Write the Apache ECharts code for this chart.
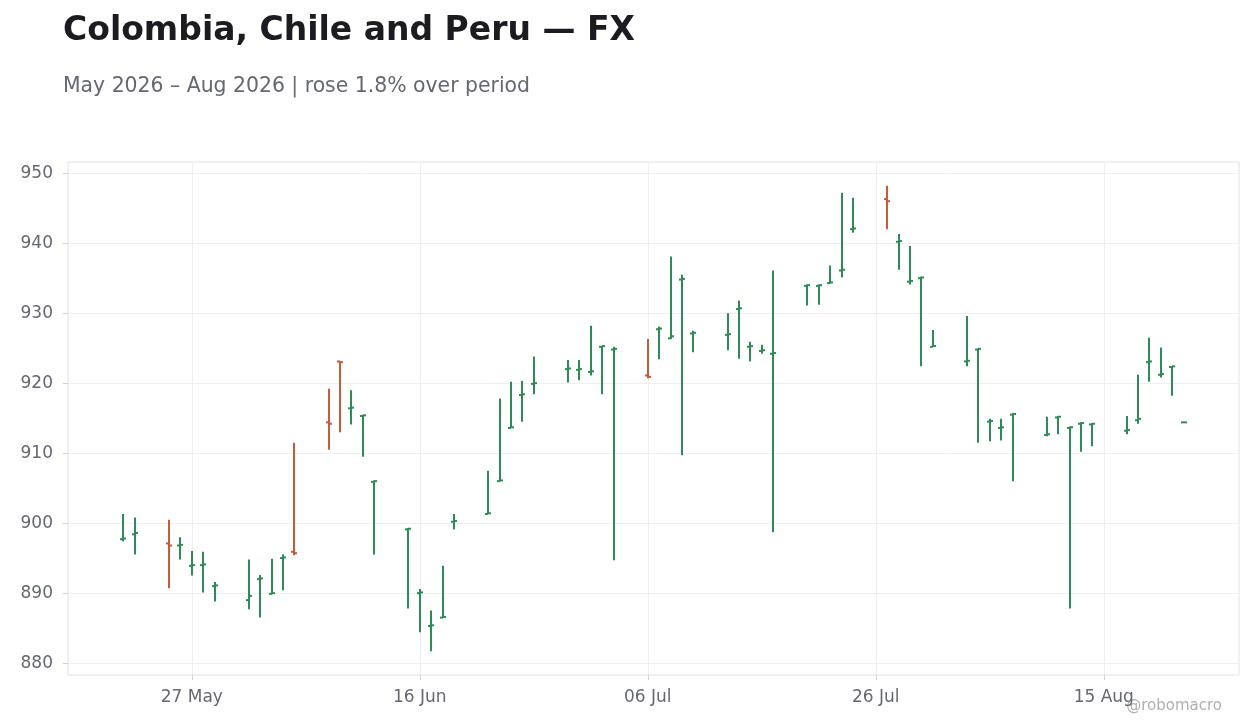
<!DOCTYPE html>
<html>
<head>
<meta charset="utf-8">
<title>Colombia, Chile and Peru — FX</title>
<script src="https://cdn.jsdelivr.net/npm/echarts@6/dist/echarts.min.js"></script>
<style>
  html, body { margin: 0; padding: 0; background: #fff; }
  #chart { width: 1260px; height: 728px; }
</style>
</head>
<body>
<div id="chart"></div>
<script>
// daily bars, weekdays
const dates = [
  '2026-05-21', '2026-05-22',
  '2026-05-25', '2026-05-26', '2026-05-27', '2026-05-28', '2026-05-29',
  '2026-06-01', '2026-06-02', '2026-06-03', '2026-06-04', '2026-06-05',
  '2026-06-08', '2026-06-09', '2026-06-10', '2026-06-11', '2026-06-12',
  '2026-06-15', '2026-06-16', '2026-06-17', '2026-06-18', '2026-06-19',
  '2026-06-22', '2026-06-23', '2026-06-24', '2026-06-25', '2026-06-26',
  '2026-06-29', '2026-06-30', '2026-07-01', '2026-07-02', '2026-07-03',
  '2026-07-06', '2026-07-07', '2026-07-08', '2026-07-09', '2026-07-10',
  '2026-07-13', '2026-07-14', '2026-07-15', '2026-07-16', '2026-07-17',
  '2026-07-20', '2026-07-21', '2026-07-22', '2026-07-23', '2026-07-24',
  '2026-07-27', '2026-07-28', '2026-07-29', '2026-07-30', '2026-07-31',
  '2026-08-03', '2026-08-04', '2026-08-05', '2026-08-06', '2026-08-07',
  '2026-08-10', '2026-08-11', '2026-08-12', '2026-08-13', '2026-08-14',
  '2026-08-17', '2026-08-18', '2026-08-19', '2026-08-20', '2026-08-21',
  '2026-08-22'
];
const opens = [
  897.7, 898.4,
  897.1, 896.8, 893.9, 894.0, 891.0,
  889.0, 892.0, 889.9, 895.0, 895.9,
  914.4, 923.1, 916.4, 915.3, 905.9,
  899.1, 890.0, 885.3, 886.5, 900.2,
  901.3, 906.0, 913.6, 918.3, 919.9,
  922.0, 921.9, 921.6, 925.2, 924.8,
  921.1, 927.7, 926.4, 934.8, 927.1,
  926.9, 930.6, 925.2, 924.6, 924.2,
  933.9, 933.9, 934.3, 936.1, 942.0,
  946.3, 940.2, 934.5, 935.0, 925.2,
  923.1, 924.8, 914.5, 913.6, 915.5,
  912.6, 915.1, 913.6, 914.2, 914.1,
  913.2, 914.7, 923.0, 921.2, 922.3,
  914.4
];
const closes = [
  897.8, 898.6,
  896.8, 896.9, 894.0, 894.1, 891.1,
  889.6, 892.1, 890.0, 895.1, 895.7,
  914.2, 923.0, 916.5, 915.4, 906.0,
  899.2, 890.1, 885.4, 886.6, 900.3,
  901.4, 906.1, 913.7, 918.4, 920.0,
  922.1, 922.0, 921.7, 925.3, 924.9,
  920.9, 927.8, 926.7, 934.9, 927.2,
  927.0, 930.7, 925.3, 924.7, 924.3,
  934.0, 934.0, 934.4, 936.2, 942.1,
  946.0, 940.3, 934.6, 935.1, 925.3,
  923.2, 924.9, 914.6, 913.7, 915.6,
  912.7, 915.2, 913.7, 914.3, 914.2,
  913.3, 914.9, 923.1, 921.3, 922.4,
  914.4
];
const lows = [
  897.4, 895.5,
  890.7, 894.8, 892.5, 890.1, 888.8,
  887.7, 886.5, 889.85, 890.4, 895.4,
  910.5, 913.0, 914.1, 909.5, 895.5,
  887.8, 884.4, 881.7, 886.5, 899.1,
  901.3, 906.0, 913.6, 914.5, 918.4,
  920.1, 920.4, 921.1, 918.4, 894.7,
  920.7, 923.4, 926.3, 909.7, 924.4,
  924.7, 923.5, 923.1, 924.2, 898.7,
  931.1, 931.2, 934.2, 935.1, 941.5,
  942.0, 936.2, 934.1, 922.4, 925.2,
  922.4, 911.5, 911.7, 911.8, 906.0,
  912.4, 912.7, 887.8, 910.2, 911.0,
  912.7, 914.2, 920.2, 920.8, 918.2,
  914.4
];
const highs = [
  901.3, 900.8,
  900.5, 898.0, 896.0, 895.9, 891.6,
  894.8, 892.6, 894.9, 895.5, 911.5,
  919.2, 923.1, 919.0, 915.5, 906.1,
  899.3, 890.6, 887.5, 893.9, 901.3,
  907.5, 917.8, 920.2, 920.3, 923.8,
  923.3, 923.3, 928.2, 925.3, 925.2,
  926.3, 928.1, 938.1, 935.5, 927.5,
  930.0, 931.8, 925.9, 925.5, 936.1,
  934.1, 934.1, 936.8, 947.2, 946.5,
  948.2, 941.3, 939.6, 935.2, 927.6,
  929.6, 924.9, 914.9, 914.9, 915.7,
  915.2, 915.3, 913.8, 914.4, 914.3,
  915.3, 921.2, 926.5, 925.1, 922.4,
  914.4
];
const xTicks = ['2026-05-27', '2026-06-16', '2026-07-06', '2026-07-26', '2026-08-15'];
const yTicks = [880, 890, 900, 910, 920, 930, 940, 950];

const UP = '#2e8b57';
const DOWN = '#c65a3c';
const DAY = 24 * 3600 * 1000;

function ts(s) {
  const p = s.split('-');
  return new Date(+p[0], +p[1] - 1, +p[2]).getTime();
}

const chart = echarts.init(document.getElementById('chart'));

const seriesData = dates.map((d, i) => [ts(d), opens[i], closes[i], lows[i], highs[i]]);
const pad = 4.86 * DAY;

const option = {
  backgroundColor: '#fff',
  textStyle: { fontFamily: 'DejaVu Sans' },
  title: [
    {
      text: 'Colombia, Chile and Peru — FX',
      left: 58,
      top: 10,
      textStyle: { fontSize: 33, fontWeight: 'bold', color: '#1c1c20', fontFamily: 'DejaVu Sans' }
    },
    {
      text: 'May 2026 – Aug 2026 | rose 1.8% over period',
      left: 58,
      top: 72,
      textStyle: { fontSize: 20.4, fontWeight: 'normal', color: '#666870', fontFamily: 'DejaVu Sans' }
    }
  ],
  graphic: [{
    type: 'text',
    right: 38,
    top: 699,
    style: { text: '@robomacro', fontSize: 15, fill: '#b0b0b4', fontFamily: 'DejaVu Sans' }
  }],
  grid: {
    left: 68, right: 21, top: 162, bottom: 53,
    show: true, borderColor: '#e2e2e2', borderWidth: 1
  },
  xAxis: {
    type: 'time',
    min: ts(dates[0]) - pad,
    max: ts(dates[dates.length - 1]) + pad,
    axisLine: { show: false },
    axisTick: { show: true, length: 5, lineStyle: { color: '#d0d0d0' }, customValues: xTicks.map(ts) },
    axisLabel: {
      customValues: xTicks.map(ts),
      formatter: '{dd} {MMM}',
      color: '#666870', fontSize: 17, margin: 14, fontFamily: 'DejaVu Sans'
    },
    splitLine: { show: true, lineStyle: { color: '#efefef' } }
  },
  yAxis: {
    type: 'value',
    min: 878.3,
    max: 951.6,
    axisLine: { show: false },
    axisTick: { show: true, length: 5, lineStyle: { color: '#d0d0d0' }, customValues: yTicks },
    axisLabel: { customValues: yTicks, color: '#666870', fontSize: 17, margin: 15, fontFamily: 'DejaVu Sans' },
    splitLine: { show: true, lineStyle: { color: '#efefef' } }
  },
  series: [{
    type: 'custom',
    name: 'FX',
    clip: true,
    encode: { x: 0, y: [1, 2, 3, 4] },
    data: seriesData,
    renderItem: function (params, api) {
      const t = api.value(0);
      const o = api.value(1), c = api.value(2);
      const pO = api.coord([t, o]);
      const pC = api.coord([t, c]);
      const pL = api.coord([t, api.value(3)]);
      const pH = api.coord([t, api.value(4)]);
      const x = Math.round(pO[0]);
      const color = c >= o ? UP : DOWN;
      const st = { stroke: color, lineWidth: 2 };
      return {
        type: 'group',
        children: [
          { type: 'line', shape: { x1: x, y1: pH[1], x2: x, y2: pL[1] }, style: st },
          { type: 'line', shape: { x1: x - 3, y1: pO[1], x2: x, y2: pO[1] }, style: st },
          { type: 'line', shape: { x1: x, y1: pC[1], x2: x + 3, y2: pC[1] }, style: st }
        ]
      };
    }
  }]
};

chart.setOption(option);
</script>
</body>
</html>
